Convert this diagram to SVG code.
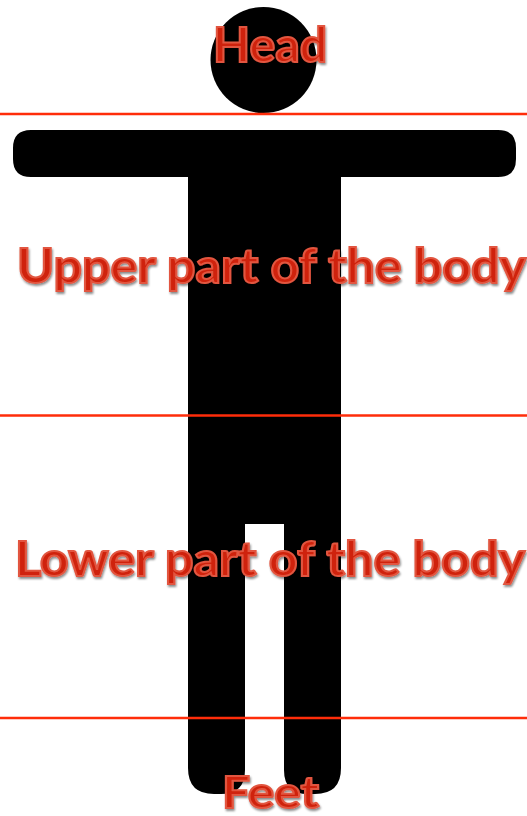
<svg xmlns="http://www.w3.org/2000/svg" width="527" height="816" viewBox="0 0 527 816">
<defs>
<style>
.line{stroke:#ff2d0a;stroke-width:2.5;fill:none}
.figure{fill:#000}
.label{font-family:"Lato","Liberation Sans",sans-serif;font-weight:700;fill:#cf230b;stroke:#e2553f;stroke-width:2;filter:url(#shadow)}
</style>
<filter id="shadow" x="-10%" y="-20%" width="120%" height="150%">
<feDropShadow dx="1" dy="2" stdDeviation="1.2" flood-color="#000" flood-opacity="0.45"/>
</filter>
</defs>
<rect width="527" height="816" fill="#fff"/>
<g id="figure" class="figure">
<circle id="head" cx="263.5" cy="60" r="53"/>
<path id="body" d="M31 130H498Q516 130 516 148V159Q516 177 498 177H341V768Q341 794 315 794H308Q284 794 284 770V524H245V770Q245 794 221 794H214Q188 794 188 768V177H31Q13 177 13 159V148Q13 130 31 130Z"/>
</g>
<g id="connectors">
<line class="line" x1="0" y1="114" x2="527" y2="114"/>
<line class="line" x1="0" y1="415.5" x2="527" y2="415.5"/>
<line class="line" x1="0" y1="718" x2="527" y2="718"/>
</g>
<g id="label-head"><text class="label" x="213" y="62" font-size="47" textLength="114" lengthAdjust="spacingAndGlyphs">Head</text></g>
<g id="label-upper"><text class="label" x="17" y="283" font-size="47" textLength="509" lengthAdjust="spacingAndGlyphs">Upper part of the body</text></g>
<g id="label-lower"><text class="label" x="15" y="576" font-size="47" textLength="510" lengthAdjust="spacingAndGlyphs">Lower part of the body</text></g>
<g id="label-feet"><text class="label" x="222" y="808" font-size="44" textLength="97" lengthAdjust="spacingAndGlyphs">Feet</text></g>
</svg>
